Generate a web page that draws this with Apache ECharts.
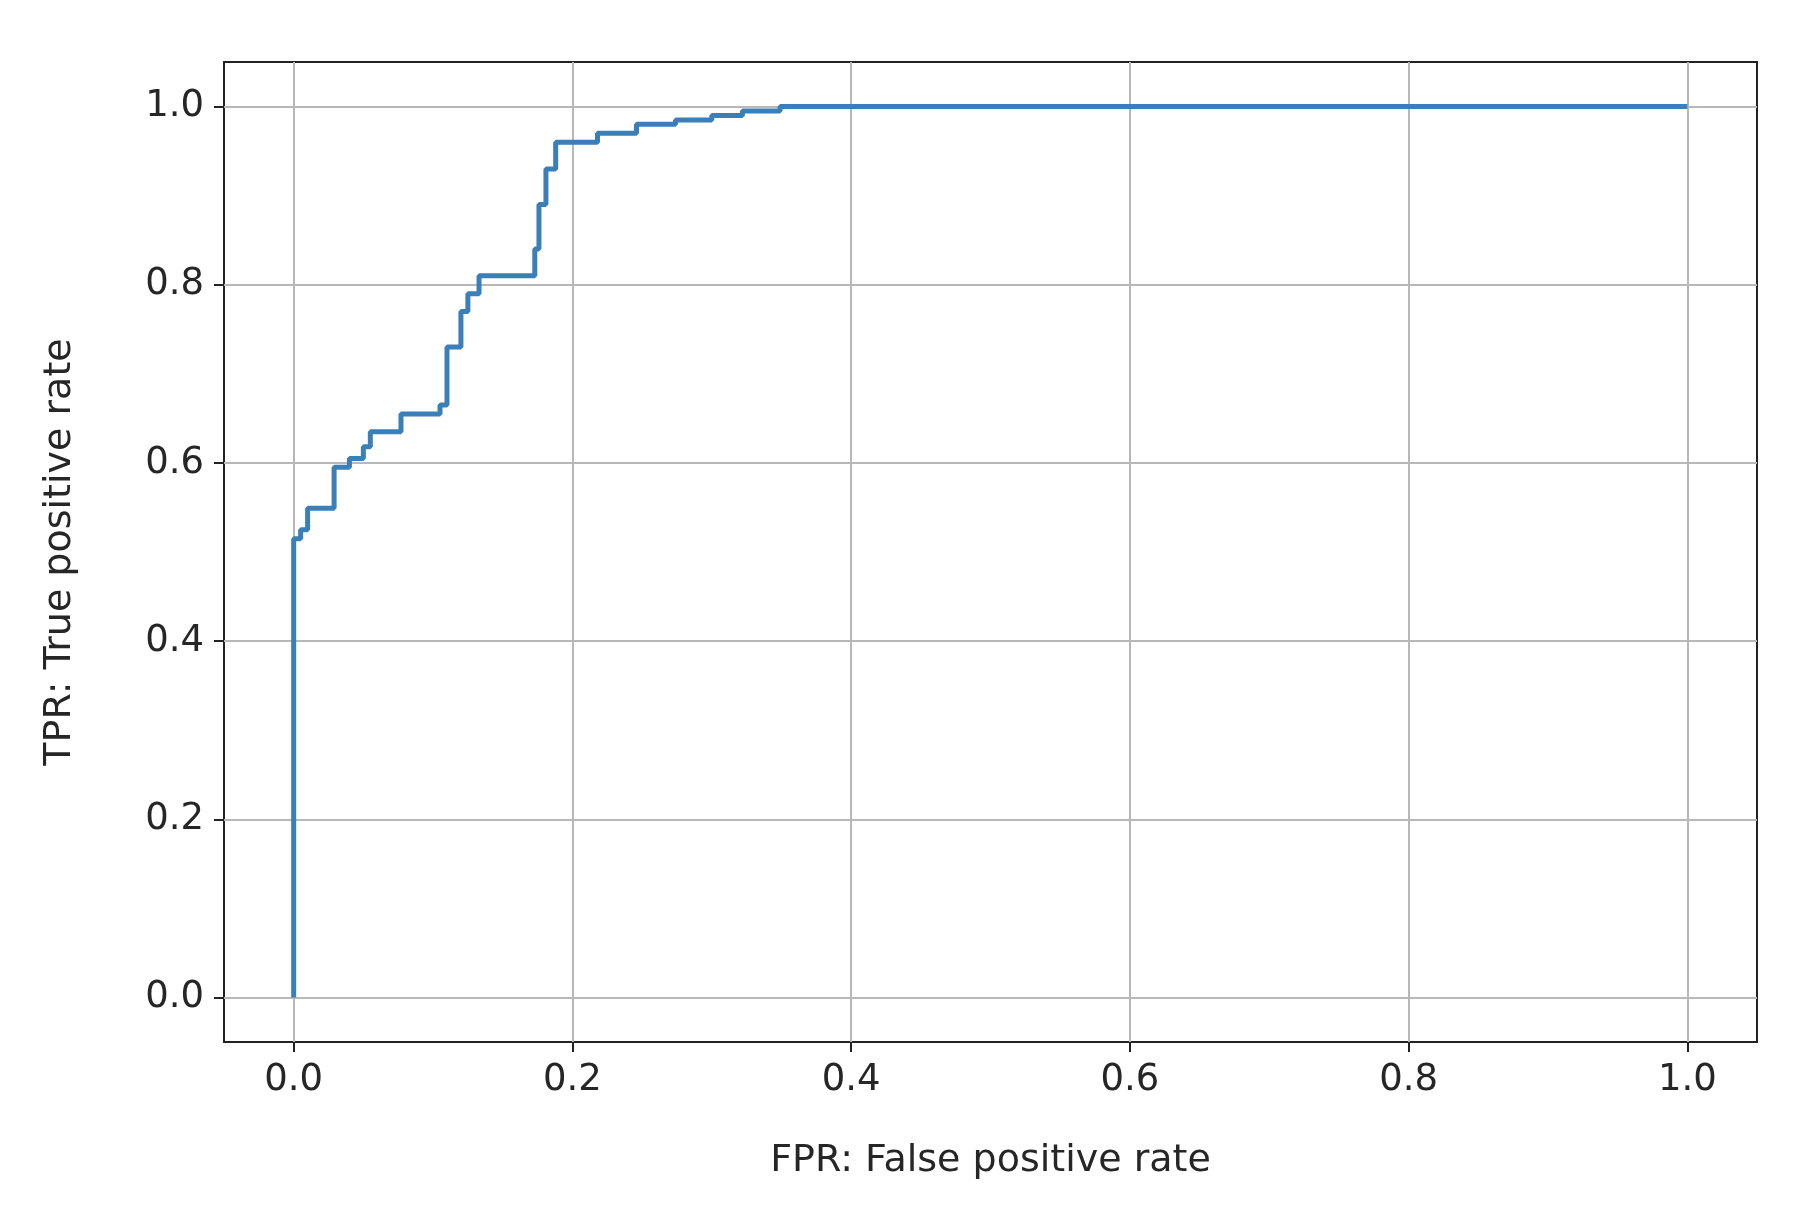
<!DOCTYPE html>
<html>
<head>
<meta charset="utf-8">
<script src="https://cdn.jsdelivr.net/npm/echarts@6/dist/echarts.min.js"></script>
<style>html,body{margin:0;background:#fff}#chart{width:1808px;height:1232px}</style>
</head>
<body>
<div id="chart"></div>
<script>
// ROC curve points
var fpr = [0, 0, 0.005, 0.01, 0.029, 0.04, 0.05, 0.055, 0.077, 0.105, 0.11, 0.12, 0.125, 0.133, 0.173, 0.176, 0.181, 0.188, 0.218, 0.246, 0.274, 0.3, 0.322, 0.349, 1.0];
var tpr = [0, 0.515, 0.525, 0.549, 0.595, 0.605, 0.618, 0.635, 0.655, 0.665, 0.73, 0.77, 0.79, 0.81, 0.84, 0.89, 0.93, 0.96, 0.97, 0.98, 0.985, 0.99, 0.995, 1.0, 1.0];
var tickValues = [0, 0.2, 0.4, 0.6, 0.8, 1.0];

var myChart = echarts.init(document.getElementById('chart'));
var font = 'DejaVu Sans';
var fmt = function (v) { return v.toFixed(1); };

var pts = fpr.map(function (x, i) { return [x, tpr[i]]; });

var frameAxis = {
  min: -0.05, max: 1.05,
  axisLine: { show: true, onZero: false, lineStyle: { color: '#222', width: 2 } },
  axisTick: { show: false }, axisLabel: { show: false }, splitLine: { show: false }
};

function mainAxis(name, gap) {
  return {
    type: 'value', min: -0.05, max: 1.05,
    name: name, nameLocation: 'middle', nameGap: gap,
    nameTextStyle: { fontFamily: font, fontSize: 38, color: '#262626' },
    axisLine: { show: true, onZero: false, lineStyle: { color: '#222', width: 2 } },
    axisTick: { show: true, length: 10, customValues: tickValues, lineStyle: { color: '#222', width: 2 } },
    axisLabel: { fontFamily: font, fontSize: 37, color: '#262626', margin: 20, customValues: tickValues, formatter: fmt },
    splitLine: { show: false }
  };
}

var gridStyle = { color: '#b8b8b8', width: 2, type: 'solid' };

var option = {
  animation: false,
  grid: { left: 224, right: 51, top: 62, bottom: 190 },
  xAxis: [mainAxis('FPR: False positive rate', 100), Object.assign({ type: 'value', position: 'top' }, frameAxis)],
  yAxis: [mainAxis('TPR: True positive rate', 145), Object.assign({ type: 'value', position: 'right' }, frameAxis)],
  series: [{
    type: 'line', step: 'end', data: pts, showSymbol: false, z: 3,
    lineStyle: { color: '#3a7fb8', width: 5 },
    markLine: {
      silent: true, symbol: 'none', label: { show: false }, lineStyle: gridStyle, z: 1,
      data: tickValues.map(function (v) { return { xAxis: v }; })
        .concat(tickValues.map(function (v) { return { yAxis: v }; }))
    }
  }]
};
myChart.setOption(option);
</script>
</body>
</html>
